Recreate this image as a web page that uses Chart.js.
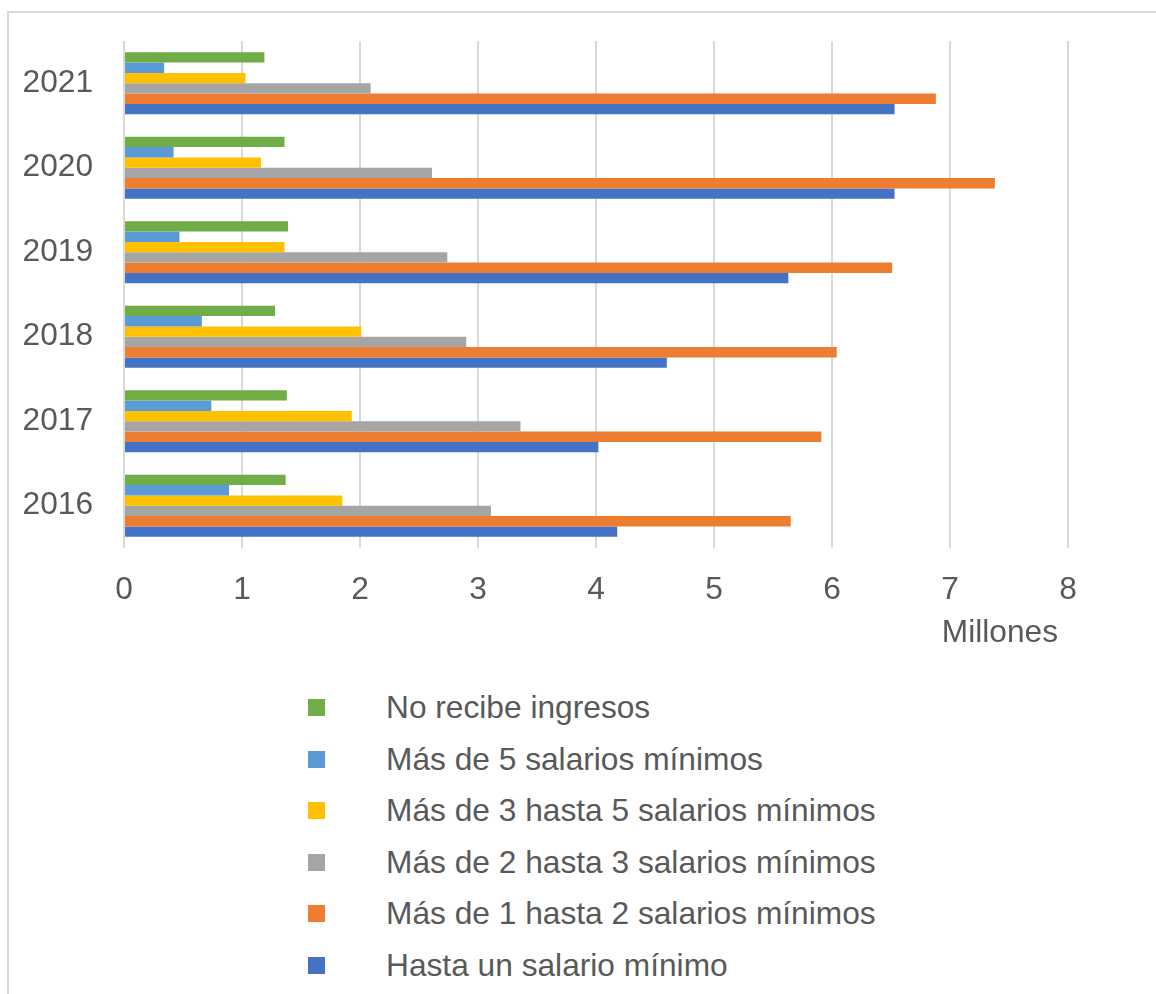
<!DOCTYPE html>
<html>
<head>
<meta charset="utf-8">
<script src="https://cdn.jsdelivr.net/npm/chart.js@4/dist/chart.umd.min.js"></script>
<style>
  html, body { margin: 0; padding: 0; background: #fff; overflow: hidden; }
  body { width: 1156px; height: 994px; position: relative; font-family: 'Liberation Sans', Arial, sans-serif; }
  #frame { position: absolute; left: 7px; top: 11px; right: -20px; bottom: -20px;
    border-left: 2px solid #d9d9d9; border-top: 2px solid #d9d9d9; }
  #wrap { position: absolute; left: 0; top: 0; width: 1156px; height: 660px; }
  #legend { position: absolute; left: 0; top: 0; }
  .item { position: absolute; left: 308px; height: 52px; display: flex; align-items: center;
    font-size: 31.7px; color: #595959; white-space: nowrap; }
  .box { width: 17px; height: 17px; margin-right: 61px; }
</style>
</head>
<body>
<div id="frame"></div>
<div id="wrap"><canvas id="chart"></canvas></div>
<div id="legend"></div>
<script>
'use strict'

/* global Chart */

// years, oldest first (axis is reversed so 2021 ends up on top)
const years = ['2016', '2017', '2018', '2019', '2020', '2021']

// workers by income bracket, in millions
const noIncome = [1.37, 1.38, 1.28, 1.39, 1.36, 1.19]
const over5 = [0.89, 0.74, 0.66, 0.47, 0.42, 0.34]
const over3to5 = [1.85, 1.93, 2.01, 1.36, 1.16, 1.03]
const over2to3 = [3.11, 3.36, 2.90, 2.74, 2.61, 2.09]
const over1to2 = [5.65, 5.91, 6.04, 6.51, 7.38, 6.88]
const upTo1 = [4.18, 4.02, 4.60, 5.63, 6.53, 6.53]

const xTicks = [0, 1, 2, 3, 4, 5, 6, 7, 8]
const unitLabel = 'Millones'

const series = [
  { label: 'No recibe ingresos', data: noIncome, color: '#70ad47' },
  { label: 'Más de 5 salarios mínimos', data: over5, color: '#5b9bd5' },
  { label: 'Más de 3 hasta 5 salarios mínimos', data: over3to5, color: '#ffc000' },
  { label: 'Más de 2 hasta 3 salarios mínimos', data: over2to3, color: '#a5a5a5' },
  { label: 'Más de 1 hasta 2 salarios mínimos', data: over1to2, color: '#ed7d31' },
  { label: 'Hasta un salario mínimo', data: upTo1, color: '#4472c4' }
]

Chart.defaults.font.family = "'Liberation Sans', Arial, sans-serif"
Chart.defaults.font.size = 31.7
Chart.defaults.color = '#595959'

// unit caption under the right end of the value axis
const unitCaption = {
  id: 'unitCaption',
  afterDraw (chart) {
    const { ctx, chartArea } = chart
    ctx.save()
    ctx.font = "31.7px 'Liberation Sans', Arial, sans-serif"
    ctx.fillStyle = '#595959'
    ctx.textAlign = 'right'
    ctx.textBaseline = 'middle'
    ctx.fillText(unitLabel, chartArea.right - 10, 633)
    ctx.restore()
  }
}

const ctx = document.querySelector('#chart')

const chart = new Chart(ctx, {
  type: 'bar',
  data: {
    labels: years,
    datasets: series.map((s) => ({
      label: s.label,
      data: s.data,
      backgroundColor: s.color,
      borderWidth: 0,
      categoryPercentage: 0.735,
      barPercentage: 1
    }))
  },
  options: {
    indexAxis: 'y',
    responsive: true,
    maintainAspectRatio: false,
    animation: false,
    layout: { padding: { top: 41, right: 88, left: 0, bottom: 0 } },
    plugins: {
      legend: { display: false },
      tooltip: { enabled: false }
    },
    scales: {
      x: {
        min: 0,
        max: 8,
        afterBuildTicks: (scale) => {
          scale.ticks = xTicks.map((v) => ({ value: v }))
        },
        afterFit: (scale) => { scale.height = 112 },
        grid: {
          color: '#d9d9d9',
          lineWidth: 2,
          drawTicks: false
        },
        border: { display: false },
        ticks: { padding: 23, color: '#595959' }
      },
      y: {
        reverse: true,
        afterFit: (scale) => {
          scale.width = 124
          scale.paddingTop = 0
          scale.paddingBottom = 0
        },
        grid: { display: false, drawTicks: false },
        border: { display: false },
        ticks: { padding: 31, color: '#595959' }
      }
    }
  },
  plugins: [unitCaption]
})

// legend as a single column under the chart
const legend = document.querySelector('#legend')
chart.data.datasets.forEach((ds, i) => {
  const item = document.createElement('div')
  item.className = 'item'
  item.style.top = (681.5 + i * 51.6) + 'px'
  const box = document.createElement('span')
  box.className = 'box'
  box.style.background = ds.backgroundColor
  item.appendChild(box)
  item.appendChild(document.createTextNode(ds.label))
  legend.appendChild(item)
})
</script>
</body>
</html>
